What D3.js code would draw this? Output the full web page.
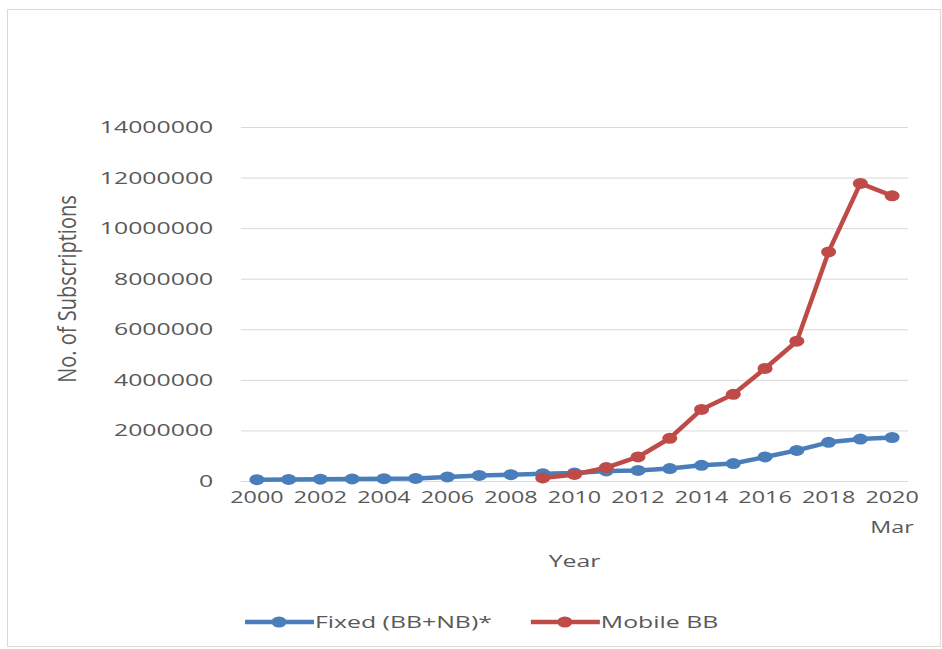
<!DOCTYPE html>
<html>
<head>
<meta charset="utf-8">
<script src="https://cdn.jsdelivr.net/npm/d3@7"></script>
<style>
  body { margin: 0; background: #fff; }
  svg { display: block; }
  text { font-family: "Open Sans", "DejaVu Sans", sans-serif; fill: #595959; }
</style>
</head>
<body>
<div class="graph"></div>
<script>
// data
const years = ["2000","2001","2002","2003","2004","2005","2006","2007","2008","2009",
               "2010","2011","2012","2013","2014","2015","2016","2017","2018","2019","2020 Mar"];
const fixedBB = [50000, 60000, 70000, 80000, 90000, 100000, 160000, 220000, 250000, 290000,
                 320000, 400000, 420000, 490000, 620000, 690000, 950000, 1210000, 1530000, 1660000, 1720000];
const mobileBB = [null, null, null, null, null, null, null, null, null, 120000,
                  260000, 530000, 950000, 1690000, 2830000, 3430000, 4450000, 5530000, 9060000, 11770000, 11280000];
const yTicks = [0, 2000000, 4000000, 6000000, 8000000, 10000000, 12000000, 14000000];
const xTickLabels = ["2000","2002","2004","2006","2008","2010","2012","2014","2016","2018","2020 Mar"];
const seriesNames = ["Fixed (BB+NB)*", "Mobile BB"];
const seriesColors = ["#4a7ebb", "#be4b48"];

//dimensions
const SIZE = {X: 942, Y: 649};
const MARGIN = {TOP: 127, BOTTOM: 168, LEFT: 241, RIGHT: 34};
const DIM = {WIDTH: SIZE.X - MARGIN.LEFT - MARGIN.RIGHT,
             HEIGHT: SIZE.Y - MARGIN.TOP - MARGIN.BOTTOM};
const STRETCH = 1.46; // the picture is wide-stretched, text too

const svg = d3.select(".graph").append("svg")
    .attr("width", SIZE.X)
    .attr("height", SIZE.Y);

// outer chart frame
svg.append("rect")
    .attr("x", 7.5).attr("y", 9.5)
    .attr("width", 933).attr("height", 637)
    .attr("fill", "none")
    .attr("stroke", "#d9d9d9");

const graph = svg.append("g")
    .attr("transform", `translate(${MARGIN.LEFT}, ${MARGIN.TOP})`);

//scales
const x = d3.scaleBand().domain(years).range([0, DIM.WIDTH]);
const y = d3.scaleLinear().domain([0, 14000000]).range([DIM.HEIGHT, 0]);
const cx = d => x(d) + x.bandwidth() / 2;

//y axis with gridlines
const yAxis = graph.append("g")
    .call(d3.axisLeft(y).tickValues(yTicks).tickSize(-DIM.WIDTH).tickFormat(d3.format("d")));
yAxis.select(".domain").remove();
yAxis.selectAll("line").attr("stroke", "#d9d9d9");
yAxis.selectAll("text")
    .attr("x", -19)
    .attr("transform", `scale(${STRETCH},1)`)
    .style("font-size", "17px")
    .style("font-family", null);

//x axis
const xAxis = graph.append("g")
    .attr("transform", `translate(0, ${DIM.HEIGHT})`)
    .call(d3.axisBottom(x).tickValues(xTickLabels).tickSize(0));
xAxis.select(".domain").remove();
xAxis.selectAll("text")
    .style("font-size", "16px")
    .style("font-family", null)
    .attr("transform", `scale(${STRETCH},1)`)
    .each(function(d) {
        const t = d3.select(this).text("");
        d.split(" ").forEach((part, i) => {
            t.append("tspan")
                .attr("x", 0)
                .attr("y", 11)
                .attr("dy", i === 0 ? "0.71em" : `${0.71 + i * 1.85}em`)
                .text(part);
        });
    });

//axis titles
svg.append("text")
    .attr("transform", `translate(${MARGIN.LEFT + DIM.WIDTH / 2}, 567) scale(${STRETCH},1)`)
    .attr("text-anchor", "middle")
    .style("font-size", "17px")
    .text("Year");

svg.append("text")
    .attr("transform", `translate(76, 289) scale(1.25,1) rotate(-90)`)
    .attr("text-anchor", "middle")
    .style("font-size", "20px")
    .style("font-family", "'Liberation Sans Narrow', 'Open Sans', sans-serif")
    .text("No. of Subscriptions");

//lines and markers
const line = d3.line()
    .defined(d => d.v !== null)
    .x(d => cx(d.year))
    .y(d => y(d.v));

[fixedBB, mobileBB].forEach((vals, s) => {
    const pts = years.map((yr, i) => ({year: yr, v: vals[i]}));
    graph.append("path")
        .datum(pts)
        .attr("fill", "none")
        .attr("stroke", seriesColors[s])
        .attr("stroke-width", 4.5)
        .attr("stroke-linejoin", "round")
        .attr("d", line);
    graph.selectAll(".m" + s)
        .data(pts.filter(d => d.v !== null))
        .enter()
        .append("ellipse")
            .attr("class", "m" + s)
            .attr("cx", d => cx(d.year))
            .attr("cy", d => y(d.v))
            .attr("rx", 7.5)
            .attr("ry", 5.5)
            .attr("fill", seriesColors[s]);
});

//legend
const legend = svg.append("g").attr("transform", "translate(245, 622)");
let offset = 0;
seriesNames.forEach((name, s) => {
    const item = legend.append("g").attr("transform", `translate(${offset}, 0)`);
    item.append("line")
        .attr("x1", 0).attr("x2", 69)
        .attr("stroke", seriesColors[s])
        .attr("stroke-width", 4.5);
    item.append("ellipse")
        .attr("cx", 34).attr("rx", 7.5).attr("ry", 5.5)
        .attr("fill", seriesColors[s]);
    const txt = item.append("text")
        .attr("transform", `translate(70, 0) scale(${STRETCH},1)`)
        .attr("dy", "0.35em")
        .style("font-size", "17px")
        .text(name);
    offset += 70 + txt.node().getComputedTextLength() * STRETCH + 39;
});
</script>
</body>
</html>
